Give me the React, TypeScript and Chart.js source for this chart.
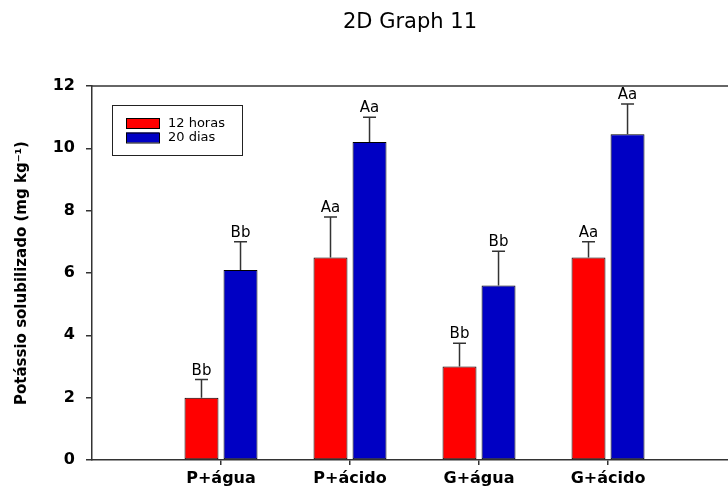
import React, { useEffect, useRef } from "react";
import { Chart, registerables } from "chart.js";

Chart.register(...registerables);

const categories = ["P+água", "P+ácido", "G+água", "G+ácido"];
const seriesNames = ["12 horas", "20 dias"];
const values12h = [2.0, 6.5, 3.0, 6.5];
const values20d = [6.1, 10.2, 5.6, 10.45];
const errors12h = [0.58, 1.3, 0.75, 0.5];
const errors20d = [0.9, 0.8, 1.1, 0.97];
const letters12h = ["Bb", "Aa", "Bb", "Aa"];
const letters20d = ["Bb", "Aa", "Bb", "Aa"];
const yTicks = [0, 2, 4, 6, 8, 10, 12];

const FONT = "'DejaVu Sans', 'Liberation Sans', Arial, sans-serif";
const AXIS_COLOR = "#333333";
const RED = "#ff0000";
const BLUE = "#0000c4";

const errorBarPlugin = {
  id: "errorBars",
  afterDatasetsDraw(chart: any) {
    const ctx = chart.ctx;
    const yScale = chart.scales.y;
    const errs = [errors12h, errors20d];
    const lets = [letters12h, letters20d];
    const vals = [values12h, values20d];
    ctx.save();
    chart.data.datasets.forEach((_: any, di: number) => {
      const meta = chart.getDatasetMeta(di);
      meta.data.forEach((el: any, i: number) => {
        const x = el.x;
        const yb = el.y;
        const yt = yScale.getPixelForValue(vals[di][i] + errs[di][i]);
        ctx.strokeStyle = AXIS_COLOR;
        ctx.lineWidth = 1.5;
        ctx.beginPath();
        ctx.moveTo(x, yb);
        ctx.lineTo(x, yt);
        ctx.moveTo(x - 6.5, yt);
        ctx.lineTo(x + 6.5, yt);
        ctx.stroke();
        ctx.fillStyle = "#000";
        ctx.font = `15px ${FONT}`;
        ctx.textAlign = "center";
        ctx.textBaseline = "alphabetic";
        ctx.fillText(lets[di][i], x, yt - 5);
      });
    });
    ctx.restore();
  },
};

const framePlugin = {
  id: "frameAndLegend",
  afterDraw(chart: any) {
    const ctx = chart.ctx;
    const { left, right, top } = chart.chartArea;
    ctx.save();
    ctx.strokeStyle = AXIS_COLOR;
    ctx.lineWidth = 1.5;
    ctx.beginPath();
    ctx.moveTo(left, top);
    ctx.lineTo(right, top);
    ctx.stroke();
    const bx = left + 20;
    const by = top + 19;
    const bw = 130;
    const bh = 50;
    ctx.fillStyle = "#fff";
    ctx.fillRect(bx, by, bw, bh);
    ctx.strokeStyle = "#222";
    ctx.lineWidth = 1;
    ctx.strokeRect(bx + 0.5, by + 0.5, bw, bh);
    const colors = [RED, BLUE];
    seriesNames.forEach((name, i) => {
      const sy = by + 13 + i * 14.5;
      ctx.fillStyle = colors[i];
      ctx.fillRect(bx + 14, sy, 33, 10);
      ctx.strokeStyle = "#000";
      ctx.lineWidth = 1;
      ctx.strokeRect(bx + 14.5, sy + 0.5, 33, 10);
      ctx.fillStyle = "#000";
      ctx.font = `13px ${FONT}`;
      ctx.textAlign = "left";
      ctx.textBaseline = "middle";
      ctx.fillText(name, bx + 56, sy + 5.5);
    });
    ctx.restore();
  },
};

export default function App() {
  const ref = useRef<HTMLCanvasElement | null>(null);
  useEffect(() => {
    if (!ref.current) return;
    const chart = new Chart(ref.current, {
      type: "bar",
      data: {
        datasets: [
          {
            label: seriesNames[0],
            data: categories.map((_, i) => ({ x: i + 1, y: values12h[i] })),
            backgroundColor: RED,
            borderColor: "#000",
            borderWidth: 1,
            borderSkipped: false,
          },
          {
            label: seriesNames[1],
            data: categories.map((_, i) => ({ x: i + 1, y: values20d[i] })),
            backgroundColor: BLUE,
            borderColor: "#000",
            borderWidth: 1,
            borderSkipped: false,
          },
        ],
      },
      options: {
        responsive: false,
        animation: false,
        categoryPercentage: 0.605,
        barPercentage: 0.87,
        layout: { padding: { left: 0, right: 0, top: 0, bottom: 0 } },
        plugins: {
          legend: { display: false },
          tooltip: { enabled: false },
          title: {
            display: true,
            text: "2D Graph 11",
            fullSize: false,
            color: "#000",
            font: { family: FONT, size: 21, weight: "normal" },
            padding: { top: 10, bottom: 50.8 },
          },
        },
        scales: {
          x: {
            type: "linear",
            min: 0,
            max: 4.93,
            offset: false,
            afterBuildTicks: (scale: any) => {
              scale.ticks = categories.map((_, i) => ({ value: i + 1 }));
            },
            afterFit: (scale: any) => {
              scale.height = 30;
            },
            ticks: {
              autoSkip: false,
              maxRotation: 0,
              padding: 4,
              color: "#000",
              font: { family: FONT, size: 16, weight: "bold" },
              callback: (v: any) => categories[Number(v) - 1] ?? "",
            },
            grid: {
              offset: false,
              drawOnChartArea: false,
              drawTicks: true,
              tickLength: 5,
              color: AXIS_COLOR,
              lineWidth: 1.5,
            },
            border: { color: AXIS_COLOR, width: 1.5 },
          },
          y: {
            min: 0,
            max: 12,
            afterBuildTicks: (scale: any) => {
              scale.ticks = yTicks.map((v) => ({ value: v }));
            },
            afterFit: (scale: any) => {
              scale.width = 92;
            },
            ticks: {
              padding: 11,
              color: "#000",
              font: { family: FONT, size: 16, weight: "bold" },
            },
            grid: {
              drawOnChartArea: false,
              drawTicks: true,
              tickLength: 6,
              color: AXIS_COLOR,
              lineWidth: 1.5,
            },
            border: { color: AXIS_COLOR, width: 1.5 },
            title: {
              display: true,
              text: "Potássio solubilizado (mg kg⁻¹)",
              color: "#000",
              font: { family: FONT, size: 15, weight: "bold" },
              padding: { top: 13, bottom: 0 },
            },
          },
        },
      },
      plugins: [errorBarPlugin, framePlugin],
    } as any);
    return () => chart.destroy();
  }, []);
  return (
    <div style={{ position: "absolute", left: 0, top: 0, width: 728, height: 490, background: "#fff" }}>
      <canvas ref={ref} width={728} height={490} style={{ display: "block" }} />
    </div>
  );
}
